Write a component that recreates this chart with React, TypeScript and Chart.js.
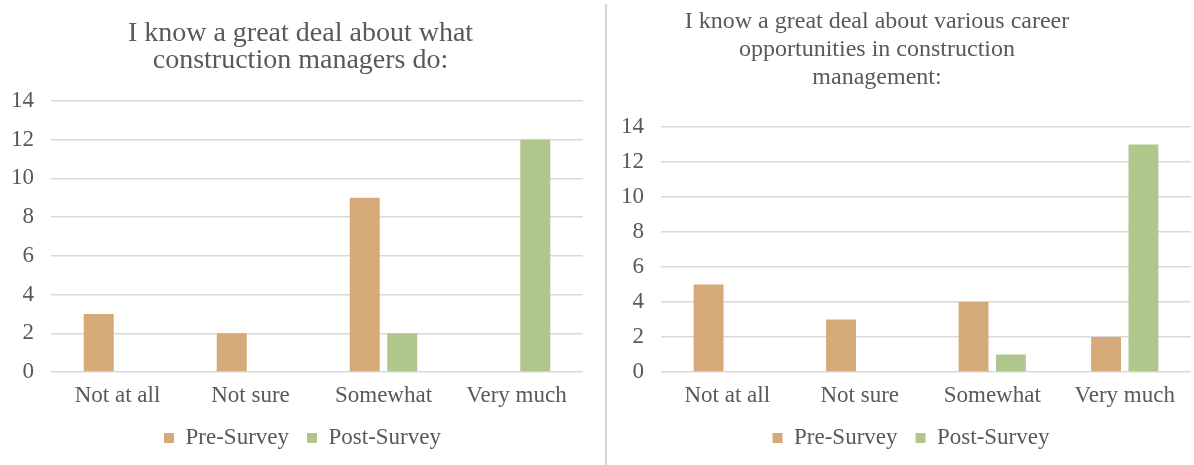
import { useEffect, useRef } from "react";
import { Chart, registerables } from "chart.js";

Chart.register(...registerables);

// Survey answers, shared by both panels
const categories = ["Not at all", "Not sure", "Somewhat", "Very much"];
const seriesNames = ["Pre-Survey", "Post-Survey"];
const yMax = 14;
const yStep = 2;

// Panel 1: knowledge of what construction managers do
const roleTitle = ["I know a great deal about what", "construction managers do:"];
const rolePre = [3, 2, 9, 0];
const rolePost = [0, 0, 2, 12];

// Panel 2: knowledge of career opportunities
const careerTitle = [
  "I know a great deal about various career",
  "opportunities in construction",
  "management:",
];
const careerPre = [5, 3, 4, 2];
const careerPost = [0, 0, 1, 13];

const PRE_COLOR = "#D5A978";
const POST_COLOR = "#AFC78B";
const TEXT_COLOR = "#595959";
const GRID_COLOR = "#D9D9D9";
const FONT = "'Liberation Serif', 'Times New Roman', serif";

// Nudges the title and legend blocks sideways after layout.
const shiftBoxes = {
  id: "shiftBoxes",
  afterLayout(chart: any, _args: any, opts: any) {
    const t = chart.titleBlock;
    if (t && opts.title) {
      t.left += opts.title;
      t.right += opts.title;
    }
    const l = chart.legend;
    if (l && opts.legend) {
      l.left += opts.legend;
      l.right += opts.legend;
    }
  },
};

type PanelOpts = {
  title: string[];
  titleSize: number;
  titleLine: number;
  pre: number[];
  post: number[];
  axisWidth: number;
  titlePadTop: number;
  titlePadBottom: number;
  padRight: number;
  legendFullSize: boolean;
  titleShift: number;
  legendShift: number;
};

function buildConfig(o: PanelOpts): any {
  return {
    type: "bar",
    data: {
      labels: categories,
      datasets: [
        {
          label: seriesNames[0],
          data: o.pre,
          backgroundColor: PRE_COLOR,
          borderWidth: 0,
          categoryPercentage: 0.564,
          barPercentage: 0.8,
        },
        {
          label: seriesNames[1],
          data: o.post,
          backgroundColor: POST_COLOR,
          borderWidth: 0,
          categoryPercentage: 0.564,
          barPercentage: 0.8,
        },
      ],
    },
    plugins: [shiftBoxes],
    options: {
      responsive: false,
      animation: false,
      layout: { padding: { top: 0, left: 0, right: o.padRight, bottom: 5.5 } },
      scales: {
        x: {
          grid: { display: false, drawTicks: false },
          border: { display: false },
          ticks: {
            padding: 14,
            color: TEXT_COLOR,
            font: { family: FONT, size: 23, lineHeight: 0.83 },
          },
          afterFit: (scale: any) => {
            scale.height = 36.5;
          },
        },
        y: {
          min: 0,
          max: yMax,
          grid: { color: GRID_COLOR, lineWidth: 1.5, drawTicks: false },
          border: { display: false },
          ticks: {
            stepSize: yStep,
            padding: 17,
            color: TEXT_COLOR,
            font: { family: FONT, size: 23 },
          },
          afterFit: (scale: any) => {
            scale.width = o.axisWidth;
          },
        },
      },
      plugins: {
        shiftBoxes: { title: o.titleShift, legend: o.legendShift },
        title: {
          display: true,
          text: o.title,
          color: TEXT_COLOR,
          font: {
            family: FONT,
            size: o.titleSize,
            weight: "normal",
            lineHeight: o.titleLine / o.titleSize,
          },
          padding: { top: o.titlePadTop, bottom: o.titlePadBottom },
        },
        legend: {
          position: "bottom",
          fullSize: o.legendFullSize,
          labels: {
            boxWidth: 10,
            boxHeight: 10,
            padding: 18,
            color: TEXT_COLOR,
            font: { family: FONT, size: 23 },
          },
        },
        tooltip: { enabled: false },
      },
    },
  };
}

function ChartPanel({
  opts,
  left,
  width,
}: {
  opts: PanelOpts;
  left: number;
  width: number;
}) {
  const ref = useRef<HTMLCanvasElement | null>(null);
  useEffect(() => {
    if (!ref.current) return;
    const chart = new Chart(ref.current, buildConfig(opts));
    return () => chart.destroy();
  }, []);
  return (
    <canvas
      ref={ref}
      width={width}
      height={465}
      style={{ position: "absolute", left, top: 0, width, height: 465 }}
    />
  );
}

export default function App() {
  return (
    <div
      style={{
        position: "fixed",
        left: 0,
        top: 0,
        width: 1194,
        height: 465,
        background: "#ffffff",
        overflow: "hidden",
      }}
    >
      <ChartPanel
        left={0}
        width={600}
        opts={{
          title: roleTitle,
          titleSize: 28,
          titleLine: 27,
          pre: rolePre,
          post: rolePost,
          axisWidth: 51,
          titlePadTop: 20,
          titlePadBottom: 27,
          padRight: 17,
          legendFullSize: true,
          titleShift: 9,
          legendShift: 11,
        }}
      />
      <ChartPanel
        left={563}
        width={631}
        opts={{
          title: careerTitle,
          titleSize: 24,
          titleLine: 28,
          pre: careerPre,
          post: careerPost,
          axisWidth: 98,
          titlePadTop: 8,
          titlePadBottom: 35,
          padRight: 3,
          legendFullSize: false,
          titleShift: 0,
          legendShift: -15,
        }}
      />
      <div
        style={{
          position: "absolute",
          left: 605,
          top: 4,
          width: 2,
          height: 461,
          background: "#D6D6D6",
        }}
      />
    </div>
  );
}
